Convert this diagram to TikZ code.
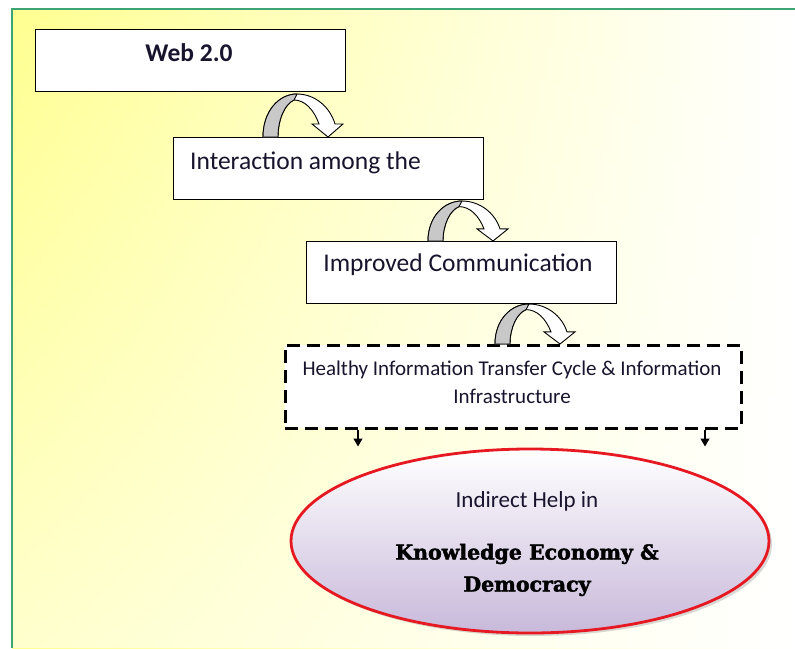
\documentclass[tikz,border=0pt]{standalone}
\usepackage{fontspec}
\setmainfont{Carlito}
\newfontfamily\heavyserif{DejaVu Serif}[BoldFeatures={FakeBold=2}]
\usetikzlibrary{arrows.meta,shadows,fadings,calc,shapes.geometric}
\definecolor{frameGreen}{RGB}{60,165,115}
\definecolor{bgYellow}{RGB}{255,255,145}
\definecolor{lav}{RGB}{200,185,218}
\definecolor{redline}{RGB}{230,25,35}
\definecolor{bandgray}{RGB}{200,200,200}
\definecolor{txt}{RGB}{25,20,45}
\tikzset{
  boxnode/.style={draw=black, line width=1.2pt, fill=white, minimum width=310pt, minimum height=62pt, anchor=north west, inner sep=0pt},
  dashbox/.style={draw=black, line width=2.5pt, dash pattern=on 13pt off 7pt, fill=white, minimum width=456pt, minimum height=83pt, anchor=north west, inner sep=0pt},
  boxtext/.style={text=txt, font=\fontsize{25.5}{29}\selectfont, inner sep=0pt},
  smalltext/.style={text=txt, font=\fontsize{21}{28}\selectfont, align=center, inner sep=0pt},
  heavytext/.style={text=black, font=\heavyserif\bfseries\fontsize{20.5}{32}\selectfont, align=center, inner sep=0pt},
  downarrow/.style={draw=black, line width=1.2pt, -{Triangle[length=8pt,width=9pt]}},
  curvarr/.pic={
    \path[draw=black, fill=white, line width=0.9pt]
      (0,0) .. controls (0,-26) and (16,-43) .. (34,-43)
      .. controls (52,-43) and (67,-30) .. (72,-13) -- (80,-13) -- (65,0) -- (49,-13) -- (56,-13)
      .. controls (51,-27) and (42,-37) .. (31,-37)
      .. controls (22,-33) and (15,-18) .. (15,0) -- cycle;
    \path[draw=black, fill=bandgray, line width=0.9pt]
      (0,0) .. controls (0,-26) and (16,-43) .. (34,-43) -- (31,-37)
      .. controls (22,-33) and (15,-18) .. (15,0) -- cycle;
  }
}
\begin{document}
\begin{tikzpicture}[x=1pt, y=-1pt]
\useasboundingbox (0,0) rectangle (795,648);
% background
\shade[left color=bgYellow, right color=white, middle color=bgYellow!45] (12,9) rectangle (795,648);
\fill[white, path fading=north, opacity=0.55] (12,9) rectangle (795,648);
\draw[frameGreen, line width=2.5pt] (12,648) -- (12,9) -- (795,9);

% boxes
\node[boxnode] (web) at (35,29) {};
\node[boxtext, font=\bfseries\fontsize{25.5}{29}\selectfont] (webt) at (189,53) {Web 2.0};
\node[boxnode] (inter) at (173,137) {};
\node[boxtext, anchor=west] (intert) at (190,163) {Interaction among the};
\node[boxnode] (impr) at (306,241) {};
\node[boxtext] (imprt) at (458,265) {Improved Communication};
\node[dashbox] (hit) at (284,344) {};
\node[smalltext] (hitt) at (512,382) {Healthy Information Transfer Cycle \& Information\\Infrastructure};

% curved arrows
\path ($(inter.north west)+(90,0)$) pic {curvarr};
\path ($(impr.north west)+(122,0)$) pic[yscale=0.93] {curvarr};
\path ($(hit.north west)+(211,0)$) pic[yscale=0.93] {curvarr};

% small arrows
\coordinate (a1) at ($(hit.south west)+(74,17)$);
\coordinate (a2) at ($(hit.south west)+(421,17)$);
\draw[downarrow] (hit.south -| a1) -- (a1);
\draw[downarrow] (hit.south -| a2) -- (a2);

% ellipse
\node[ellipse, draw=redline, line width=2.8pt, minimum width=478pt, minimum height=184pt,
      top color=white, bottom color=lav, drop shadow={shadow xshift=3pt, shadow yshift=-3pt, opacity=0.3}] (ell) at (530,541) {};
\node[boxtext, font=\fontsize{23}{27}\selectfont] (ellt1) at (527,501) {Indirect Help in};
\node[heavytext] (ellt2) at (527,570) {Knowledge Economy \&\\Democracy};
\end{tikzpicture}
\end{document}
